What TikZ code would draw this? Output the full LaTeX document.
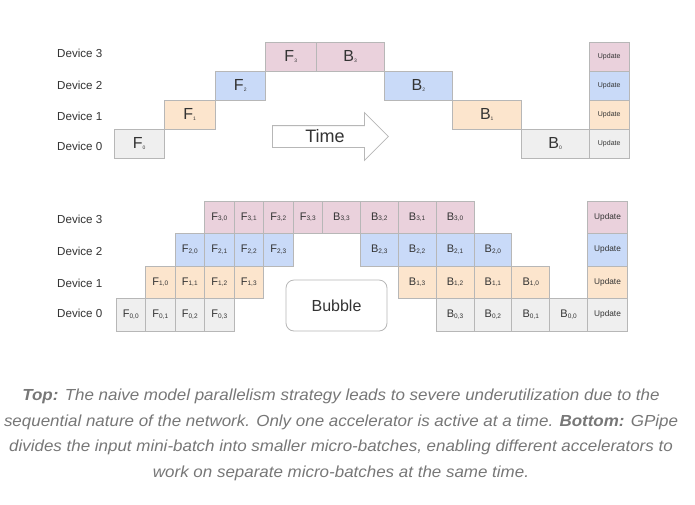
\documentclass[tikz,border=0pt]{standalone}
\usepackage{fontspec}
\setmainfont{Liberation Sans}
\newfontfamily\capfont[FakeStretch=1.06]{Liberation Sans}
\usepackage{xcolor}
\usetikzlibrary{positioning}
\usetikzlibrary{shapes.arrows}

\definecolor{devzero}{HTML}{EFEFEF}
\definecolor{devone}{HTML}{FCE5CD}
\definecolor{devtwo}{HTML}{C9DAF8}
\definecolor{devthree}{HTML}{EAD1DC}
\definecolor{linegray}{HTML}{B7B7B7}
\definecolor{textgray}{HTML}{333333}
\definecolor{capgray}{HTML}{777777}

\newcommand{\tinysub}[1]{\raisebox{-1pt}{\fontsize{5}{5}\selectfont#1}}
\newcommand{\smallsub}[1]{\raisebox{-0.5pt}{\fontsize{6.5}{6.5}\selectfont#1}}

\tikzset{
  cell/.style={draw=linegray, line width=0.8pt, inner sep=0pt, outer sep=0pt, text=textgray},
  topF/.style={cell, minimum width=50.5pt, minimum height=29pt, font=\fontsize{16}{16}\selectfont},
  topB/.style={topF, minimum width=68.3pt},
  topU/.style={topF, minimum width=40pt, font=\fontsize{7}{7}\selectfont},
  botF/.style={cell, minimum width=29.5pt, minimum height=32.5pt, font=\fontsize{11}{11}\selectfont},
  botB/.style={botF, minimum width=37.86pt},
  botU/.style={botF, minimum width=40pt, font=\fontsize{8.3}{8.3}\selectfont},
  dev0/.style={fill=devzero},
  dev1/.style={fill=devone},
  dev2/.style={fill=devtwo},
  dev3/.style={fill=devthree},
  device/.style={anchor=west, inner sep=0pt, text=textgray, font=\fontsize{11.6}{11.6}\selectfont},
}

\begin{document}
\begin{tikzpicture}[x=1pt, y=-1pt]
  \useasboundingbox[fill=white] (0,0) rectangle (695,504);

  % Device labels
  \node[device] (top3) at (57,53) {Device 3};
  \node[device] (top2) at (57,85) {Device 2};
  \node[device] (top1) at (57,116) {Device 1};
  \node[device] (top0) at (57,146) {Device 0};
  \node[device] (bot3) at (57,219.5) {Device 3};
  \node[device] (bot2) at (57,251) {Device 2};
  \node[device] (bot1) at (57,283) {Device 1};
  \node[device] (bot0) at (57,313) {Device 0};

  % Naive model parallelism
  \node[topF, dev0, anchor=north west] (f0) at (114,129) {F\tinysub{0}};
  \node[topF, dev1, anchor=south west] (f1) at (f0.north east) {F\tinysub{1}};
  \node[topF, dev2, anchor=south west] (f2) at (f1.north east) {F\tinysub{2}};
  \node[topF, dev3, anchor=south west] (f3) at (f2.north east) {F\tinysub{3}};
  \node[topB, dev3, right=0pt of f3] (b3) {B\tinysub{3}};
  \node[topB, dev2, anchor=north west] (b2) at (b3.south east) {B\tinysub{2}};
  \node[topB, dev1, anchor=north west] (b1) at (b2.south east) {B\tinysub{1}};
  \node[topB, dev0, anchor=north west] (b0) at (b1.south east) {B\tinysub{0}};
  \node[topU, dev0, right=0pt of b0] (u0) {Update};
  \node[topU, dev1, above=0pt of u0] (u1) {Update};
  \node[topU, dev2, above=0pt of u1] (u2) {Update};
  \node[topU, dev3, above=0pt of u2] (u3) {Update};

  % Time arrow
  \node[single arrow, draw=linegray, line width=0.8pt, fill=white, anchor=west,
    minimum height=116pt, single arrow head extend=13pt, single arrow head indent=0pt,
    inner xsep=4pt, inner ysep=2pt, text height=14pt, text depth=3pt,
    font=\fontsize{18}{18}\selectfont, text=textgray] (time) at (272,136.5) {Time};

  % GPipe forward passes
  \node[botF, dev0, anchor=north west] (f00) at (116,298.5) {F\smallsub{0,0}};
  \node[botF, dev0, right=0pt of f00] (f01) {F\smallsub{0,1}};
  \node[botF, dev0, right=0pt of f01] (f02) {F\smallsub{0,2}};
  \node[botF, dev0, right=0pt of f02] (f03) {F\smallsub{0,3}};
  \node[botF, dev1, above=0pt of f01] (f10) {F\smallsub{1,0}};
  \node[botF, dev1, above=0pt of f02] (f11) {F\smallsub{1,1}};
  \node[botF, dev1, above=0pt of f03] (f12) {F\smallsub{1,2}};
  \node[botF, dev1, right=0pt of f12] (f13) {F\smallsub{1,3}};
  \node[botF, dev2, above=0pt of f11] (f20) {F\smallsub{2,0}};
  \node[botF, dev2, above=0pt of f12] (f21) {F\smallsub{2,1}};
  \node[botF, dev2, above=0pt of f13] (f22) {F\smallsub{2,2}};
  \node[botF, dev2, right=0pt of f22] (f23) {F\smallsub{2,3}};
  \node[botF, dev3, above=0pt of f21] (f30) {F\smallsub{3,0}};
  \node[botF, dev3, above=0pt of f22] (f31) {F\smallsub{3,1}};
  \node[botF, dev3, above=0pt of f23] (f32) {F\smallsub{3,2}};
  \node[botF, dev3, right=0pt of f32] (f33) {F\smallsub{3,3}};

  % GPipe backward passes
  \node[botB, dev3, right=0pt of f33] (b33) {B\smallsub{3,3}};
  \node[botB, dev3, right=0pt of b33] (b32) {B\smallsub{3,2}};
  \node[botB, dev3, right=0pt of b32] (b31) {B\smallsub{3,1}};
  \node[botB, dev3, right=0pt of b31] (b30) {B\smallsub{3,0}};
  \node[botB, dev2, below=0pt of b32] (b23) {B\smallsub{2,3}};
  \node[botB, dev2, below=0pt of b31] (b22) {B\smallsub{2,2}};
  \node[botB, dev2, below=0pt of b30] (b21) {B\smallsub{2,1}};
  \node[botB, dev2, right=0pt of b21] (b20) {B\smallsub{2,0}};
  \node[botB, dev1, below=0pt of b22] (b13) {B\smallsub{1,3}};
  \node[botB, dev1, below=0pt of b21] (b12) {B\smallsub{1,2}};
  \node[botB, dev1, below=0pt of b20] (b11) {B\smallsub{1,1}};
  \node[botB, dev1, right=0pt of b11] (b10) {B\smallsub{1,0}};
  \node[botB, dev0, below=0pt of b12] (b03) {B\smallsub{0,3}};
  \node[botB, dev0, below=0pt of b11] (b02) {B\smallsub{0,2}};
  \node[botB, dev0, below=0pt of b10] (b01) {B\smallsub{0,1}};
  \node[botB, dev0, right=0pt of b01] (b00) {B\smallsub{0,0}};
  \node[botU, dev0, right=0pt of b00] (v0) {Update};
  \node[botU, dev1, above=0pt of v0] (v1) {Update};
  \node[botU, dev2, above=0pt of v1] (v2) {Update};
  \node[botU, dev3, above=0pt of v2] (v3) {Update};

  % Bubble
  \node[draw=linegray, line width=0.8pt, rounded corners=8pt, minimum width=101pt,
    minimum height=51pt, text=textgray, font=\fontsize{16}{16}\selectfont] (bubble) at (336.5,305.5) {Bubble};

  % Caption
  \node[align=center, text=capgray, font=\capfont\itshape\fontsize{16}{25.5}\selectfont] (caption) at (341,435)
    {\textbf{Top:} The naive model parallelism strategy leads to severe underutilization due to the\\
     sequential nature of the network. Only one accelerator is active at a time. \textbf{Bottom:} GPipe\\
     divides the input mini-batch into smaller micro-batches, enabling different accelerators to\\
     work on separate micro-batches at the same time.};

\end{tikzpicture}
\end{document}
